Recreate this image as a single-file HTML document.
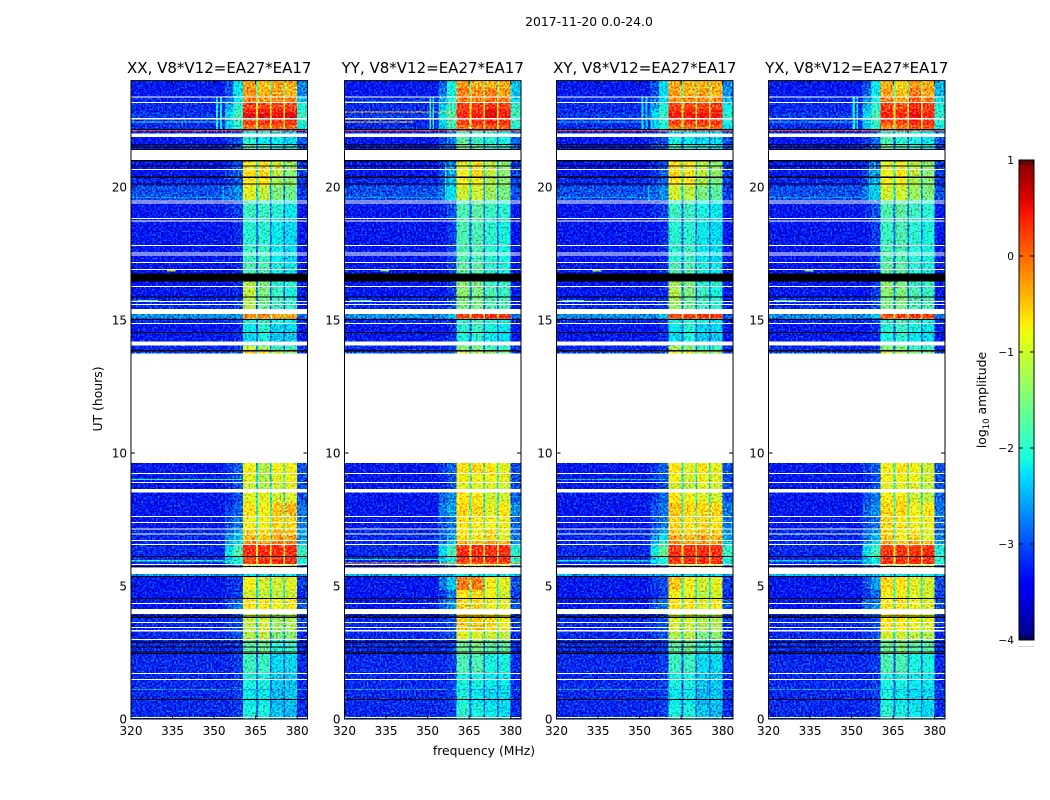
<!DOCTYPE html>
<html lang="en">
<head>
<meta charset="utf-8">
<title>2017-11-20 0.0-24.0</title>
<style>
html,body{margin:0;padding:0;background:#fff;width:1050px;height:800px;overflow:hidden}
svg{display:block}
text{font-family:"DejaVu Sans","Liberation Sans",sans-serif;fill:#000}
</style>
</head>
<body>
<svg id="chart" xmlns="http://www.w3.org/2000/svg" width="1050" height="800" viewBox="0 0 1050 800">
  <defs>
    <filter id="speckle" x="0" y="0" width="100%" height="100%" color-interpolation-filters="sRGB">
      <feTurbulence type="fractalNoise" baseFrequency="0.55" numOctaves="1" seed="4" result="grain"/>
      <feColorMatrix in="grain" type="matrix" values="0 0 0 0 .5  1 0 0 0 0  1 0 0 0 0  0 0 0 0 1" result="tint"/>
      <feComposite in="SourceGraphic" in2="tint" operator="arithmetic" k1="0" k2="1" k3="1.8" k4="-.9" result="mixed"/>
      <feComposite in="mixed" in2="SourceAlpha" operator="in"/>
    </filter>
    <linearGradient id="jet-gradient" x1="0" y1="1" x2="0" y2="0"></linearGradient>
  </defs>
  <rect width="1050" height="800" fill="#fff"/>
  <text x="589" y="26" font-size="12.4" text-anchor="middle">2017-11-20 0.0-24.0</text>
  <text x="484" y="755" font-size="12.4" text-anchor="middle">frequency (MHz)</text>
  <text transform="translate(102 399) rotate(-90)" font-size="12.4" text-anchor="middle">UT (hours)</text>
  <text transform="translate(986 400) rotate(-90)" font-size="12.4" text-anchor="middle">log<tspan font-size="8.5" dy="3">10</tspan><tspan dy="-3"> amplitude</tspan></text>
  <g id="panels"></g>
  <g id="colorbar"></g>
</svg>
<script>
// Time-band edges (UT hours, top to bottom)
const utEdges = [24,23.72,23.40,23.16,22.93,22.78,22.59,22.33,22.16,22.01,21.62,21.02,20.68,20.34,20.04,19.51,18.83,17.82,17.18,16.69,16.28,15.86,15.41,15.23,15.06,14.89,14.51,14.17,14.02,13.87,13.74,9.62,9.25,8.91,8.65,8.51,8.12,7.63,7.14,6.95,6.73,6.54,6.32,6.13,5.83,5.68,5.45,5.34,4.85,4.55,4.14,3.87,3.35,2.97,2.44,1.73,1.09,0.53,0];
// Frequency-channel edges (MHz)
const channelEdges = [320,354,357,360.4,365.1,365.8,370.2,370.8,375,375.6,380,384];
// Index into a value row for each channel; -1 marks a notch between sub-bands
const channelColumns = [0,1,2,3,-1,4,-1,5,-1,6,7];
const xTickLabels = [320,335,350,365,380];
const yTickLabels = [0,5,10,15,20];
const colorTickLabels = [1,0,-1,-2,-3,-4];
const panelTitles = ["XX, V8*V12=EA27*EA17","YY, V8*V12=EA27*EA17","XY, V8*V12=EA27*EA17","YX, V8*V12=EA27*EA17"];
const panelKeys = ["xx","yy","xy","yx"];

// log10 amplitude per time band: background, roll-off 1, roll-off 2, sub-band 1-4, upper edge
const xxValues = [
[-3.3,-3.0,-2.2,-.3,-.5,-.3,-.4,-2.7],[-3.3,-3.0,-2.2,-.2,-.4,-.3,-.4,-2.7],[-3.2,-2.8,-2.2,-.1,-.2,-.1,-.2,-2.4],[-3.2,-2.6,-2.0,.2,.2,.2,.2,-2.1],[-3.2,-2.4,-1.9,.4,.45,.4,.4,-2.0],[-3.1,-2.3,-1.8,.6,.6,.55,.6,-1.9],[-3.2,-2.3,-1.9,.2,.3,.3,.3,-2.0],[-3.2,-2.4,-2.0,-.1,0,0,0,-2.2],[-3.2,-3.1,-3.0,-2.2,-2.1,-2.2,-2.4,-3.0],[-3.3,-3.1,-3.0,-2.0,-2.2,-2.2,-2.3,-3.0],
[-3.3,-3.1,-3.0,-1.8,-1.9,-2.1,-2.1,-3.0],[-3.3,-3.2,-3.0,-.8,-.7,-1.0,-1.3,-3.1],[-3.3,-3.1,-2.9,-.7,-.6,-1.1,-1.4,-3.1],[-3.2,-3.1,-2.9,-.7,-.7,-1.2,-1.4,-3.1],[-3.0,-2.9,-2.7,-.9,-1.1,-1.5,-1.6,-3.1],[-3.3,-3.2,-3.1,-1.9,-1.9,-2.0,-2.2,-3.3],[-3.3,-3.3,-3.2,-2.0,-2.0,-2.2,-2.3,-3.3],[-3.3,-3.3,-3.2,-1.9,-1.9,-2.2,-2.3,-3.3],[-3.3,-3.3,-3.2,-1.8,-1.8,-2.1,-2.2,-3.3],[-3.3,-3.3,-3.2,-1.2,-1.5,-2.0,-2.0,-3.3],
[-3.3,-3.3,-3.2,-1.1,-1.5,-1.9,-2.1,-3.3],[-3.2,-3.2,-3.1,-1.2,-1.6,-1.9,-2.0,-3.3],[-3.2,-3.2,-3.1,-1.2,-1.6,-1.9,-2.0,-3.3],[-2.7,-2.7,-2.6,-.2,-.2,-.3,-.3,-2.9],[-3.2,-3.2,-3.1,-2.1,-2.0,-2.1,-2.2,-3.2],[-3.3,-3.3,-3.2,-2.2,-2.0,-2.3,-2.3,-3.3],[-3.3,-3.3,-3.2,-2.3,-2.1,-2.4,-2.4,-3.3],[-3.3,-3.3,-3.2,-2.3,-2.1,-2.4,-2.4,-3.3],[-3.2,-3.2,-3.1,-1.0,-1.3,-1.9,-1.9,-3.2],[-3.0,-3.0,-2.9,-.5,-.6,-1.1,-1.3,-3.1],
null,
[-3.3,-3.1,-2.9,-.8,-1.2,-.8,-.8,-3.0],[-3.3,-3.2,-3.0,-.9,-1.2,-.9,-.8,-3.0],[-3.3,-3.2,-3.0,-1.0,-1.2,-1.0,-.9,-3.0],[-3.3,-3.2,-3.0,-1.0,-1.2,-1.0,-.9,-3.0],[-3.3,-3.2,-3.0,-.9,-.9,-1.0,-.9,-3.0],[-3.3,-3.1,-2.9,-.7,-.8,-.5,-.4,-2.8],[-3.3,-3.0,-2.8,-.8,-.8,-.6,-.6,-2.8],[-3.2,-2.9,-2.6,-.6,-.6,-.4,-.5,-2.6],[-3.2,-2.7,-2.4,-.4,-.5,-.3,-.3,-2.6],[-3.2,-2.6,-2.3,-.2,-.3,-.1,-.1,-2.5],
[-3.2,-2.3,-1.8,.3,.3,.3,.3,-2.0],[-3.2,-2.2,-1.7,.35,.4,.4,.35,-1.9],[-3.2,-2.5,-2.1,.2,.3,.35,.3,-2.1],[-3.3,-3.0,-2.7,-.8,-.8,-.7,-.8,-2.8],[-3.3,-3.0,-2.7,-.8,-.8,-.7,-.8,-2.8],[-2.6,-2.6,-2.6,-2.3,-2.3,-2.3,-2.3,-2.6],[-3.3,-3.2,-3.1,-.8,-1.0,-1.0,-.9,-3.1],[-3.3,-3.2,-3.1,-1.0,-1.1,-1.1,-1.0,-3.2],[-3.3,-3.0,-2.8,-.7,-.7,-.8,-.7,-3.0],[-3.2,-3.1,-3.0,-1.0,-1.0,-1.2,-1.1,-3.1],
[-3.2,-3.1,-3.0,-1.1,-1.0,-1.3,-1.2,-3.1],[-3.2,-3.1,-3.0,-1.2,-1.1,-1.5,-1.4,-3.2],[-3.2,-3.2,-3.1,-1.7,-1.6,-2.0,-1.9,-3.2],[-3.2,-3.2,-3.1,-1.9,-1.9,-2.3,-2.3,-3.2],[-3.2,-3.2,-3.1,-2.1,-2.1,-2.4,-2.4,-3.2],[-3.2,-3.2,-3.1,-2.2,-2.2,-2.5,-2.4,-3.2],[-3.2,-3.2,-3.1,-2.1,-2.1,-2.4,-2.5,-3.2]
];
const yyValues = [
[-3.3,-2.9,-2.1,-.3,-.4,-.4,-.4,-2.4],[-3.3,-2.8,-2.1,-.1,-.2,-.1,-.3,-2.4],[-3.2,-2.6,-2.0,-.1,-.1,0,-.1,-2.3],[-3.2,-2.4,-1.9,.2,.2,.3,.2,-2.0],[-3.2,-2.3,-1.8,.3,.4,.55,.4,-1.9],[-3.1,-2.2,-1.7,.4,.45,.6,.45,-1.9],[-3.2,-2.3,-1.8,.2,.3,.4,.3,-1.9],[-3.2,-2.4,-1.9,-.1,.05,.1,.05,-2.1],[-3.2,-3.0,-2.8,-1.9,-1.9,-2.0,-2.2,-2.8],[-3.3,-3.0,-2.8,-1.7,-1.9,-2.0,-2.1,-2.9],
[-3.3,-3.0,-2.9,-1.5,-1.7,-1.9,-2.0,-2.9],[-3.3,-3.1,-2.8,-.9,-.7,-1.1,-1.4,-3.1],[-3.3,-3.0,-2.6,-.8,-.6,-1.1,-1.4,-3.1],[-3.2,-3.0,-2.5,-.8,-.8,-1.2,-1.4,-3.1],[-3.0,-2.8,-2.3,-1.0,-1.0,-1.3,-1.5,-3.0],[-3.3,-3.2,-3.0,-1.8,-1.7,-1.9,-2.0,-3.3],[-3.3,-3.3,-3.1,-1.8,-1.8,-2.0,-2.1,-3.3],[-3.3,-3.3,-3.1,-1.8,-1.8,-2.0,-2.1,-3.3],[-3.3,-3.3,-3.1,-1.7,-1.7,-2.0,-2.1,-3.3],[-3.3,-3.3,-3.1,-1.4,-1.5,-1.9,-1.9,-3.3],
[-3.3,-3.3,-3.1,-1.4,-1.5,-1.8,-1.9,-3.3],[-3.2,-3.2,-3.0,-1.5,-1.5,-1.8,-1.8,-3.3],[-3.2,-3.2,-3.0,-1.5,-1.5,-1.8,-1.8,-3.3],[-2.7,-2.7,-2.4,.2,.3,.4,.3,-2.8],[-3.2,-3.2,-3.1,-2.0,-1.8,-2.0,-2.1,-3.2],[-3.3,-3.3,-3.2,-2.0,-1.9,-2.1,-2.2,-3.3],[-3.3,-3.3,-3.2,-2.1,-2.0,-2.2,-2.3,-3.3],[-3.3,-3.3,-3.2,-2.1,-2.0,-2.2,-2.3,-3.3],[-3.2,-3.2,-3.1,-1.4,-1.5,-1.9,-1.9,-3.2],[-3.0,-3.0,-2.9,-1.0,-1.1,-1.4,-1.5,-3.1],
null,
[-3.3,-3.1,-2.9,-.7,-.6,-.7,-.9,-3.0],[-3.3,-3.2,-3.0,-.8,-.8,-.8,-.9,-3.0],[-3.3,-3.2,-3.0,-.9,-.9,-.9,-1.0,-3.0],[-3.3,-3.2,-3.0,-.9,-.9,-.9,-1.0,-3.0],[-3.3,-2.9,-2.7,-.7,-.7,-1.0,-1.0,-2.9],[-3.3,-2.8,-2.6,-.6,-.6,-.9,-.7,-2.7],[-3.3,-3.0,-2.8,-.7,-.7,-.8,-.8,-2.9],[-3.2,-2.9,-2.7,-.7,-.8,-.6,-.9,-2.9],[-3.2,-2.9,-2.6,-.6,-.7,-.6,-.9,-2.8],[-3.2,-2.8,-2.5,-.4,-.5,-.3,-.4,-2.7],
[-3.2,-2.3,-1.9,.25,.3,.3,.3,-2.1],[-3.2,-2.3,-1.8,.3,.35,.35,.3,-2.0],[-3.2,-2.5,-2.1,.35,.35,.4,.35,-2.0],[-3.3,-3.0,-2.7,-.5,-.6,-.4,-.8,-2.8],[-3.3,-3.0,-2.7,-.5,-.6,-.4,-.8,-2.8],[-2.5,-2.5,-2.5,-2.2,-2.2,-2.2,-2.2,-2.5],[-3.3,-2.8,-2.4,-.1,-.1,-.8,-.9,-3.0],[-3.3,-3.1,-2.8,-.7,-.6,-.8,-1.0,-3.1],[-3.3,-2.9,-2.7,-.6,-.6,-.8,-.9,-3.0],[-3.2,-3.1,-3.0,-.5,-.5,-.6,-.8,-3.1],
[-3.2,-3.1,-3.0,-.5,-.5,-.6,-.8,-3.1],[-3.2,-3.1,-3.0,-.9,-.9,-1.0,-1.1,-3.2],[-3.2,-3.2,-3.1,-1.6,-1.5,-1.7,-1.7,-3.2],[-3.2,-3.2,-3.1,-1.8,-1.8,-2.1,-2.1,-3.2],[-3.2,-3.2,-3.1,-2.1,-2.1,-2.2,-2.2,-3.2],[-3.2,-3.2,-3.1,-2.1,-2.2,-2.3,-2.3,-3.2],[-3.2,-3.2,-3.1,-2.0,-2.1,-2.2,-2.3,-3.2]
];
const xyValues = [
[-3.3,-3.0,-2.3,-.3,-.4,-.4,-.4,-2.7],[-3.3,-3.0,-2.3,-.3,-.4,-.3,-.4,-2.7],[-3.2,-2.8,-2.3,-.2,-.2,-.2,-.2,-2.5],[-3.2,-2.6,-2.1,.15,.2,.2,.2,-2.2],[-3.2,-2.4,-2.0,.3,.35,.35,.35,-2.1],[-3.1,-2.3,-1.9,.5,.5,.5,.5,-2.0],[-3.2,-2.3,-2.0,.2,.25,.25,.25,-2.1],[-3.2,-2.4,-2.1,-.1,0,0,0,-2.3],[-3.2,-3.1,-3.0,-2.3,-2.2,-2.3,-2.4,-3.0],[-3.3,-3.1,-3.0,-2.1,-2.2,-2.3,-2.3,-3.0],
[-3.3,-3.1,-3.0,-1.9,-2.0,-2.1,-2.2,-3.0],[-3.3,-3.2,-3.0,-.7,-.7,-1.1,-1.4,-3.1],[-3.3,-3.1,-2.9,-.6,-.7,-1.1,-1.4,-3.1],[-3.2,-3.1,-2.9,-.7,-.7,-1.2,-1.5,-3.1],[-3.0,-2.9,-2.7,-1.0,-1.1,-1.5,-1.7,-3.1],[-3.3,-3.2,-3.1,-1.9,-1.9,-2.1,-2.2,-3.3],[-3.3,-3.3,-3.2,-2.0,-2.0,-2.2,-2.3,-3.3],[-3.3,-3.3,-3.2,-2.0,-1.9,-2.2,-2.3,-3.3],[-3.3,-3.3,-3.2,-1.8,-1.8,-2.1,-2.2,-3.3],[-3.3,-3.3,-3.2,-1.3,-1.5,-2.0,-2.0,-3.3],
[-3.3,-3.3,-3.2,-1.2,-1.5,-1.9,-2.1,-3.3],[-3.2,-3.2,-3.1,-1.3,-1.6,-1.9,-2.0,-3.3],[-3.2,-3.2,-3.1,-1.3,-1.6,-1.9,-2.0,-3.3],[-2.7,-2.7,-2.4,.2,.3,.3,.3,-2.9],[-3.2,-3.2,-3.1,-2.1,-2.0,-2.1,-2.2,-3.2],[-3.3,-3.3,-3.2,-2.2,-2.0,-2.3,-2.3,-3.3],[-3.3,-3.3,-3.2,-2.3,-2.1,-2.4,-2.4,-3.3],[-3.3,-3.3,-3.2,-2.3,-2.1,-2.4,-2.4,-3.3],[-3.2,-3.2,-3.1,-1.2,-1.4,-1.9,-1.9,-3.2],[-3.0,-3.0,-2.9,-.8,-.9,-1.2,-1.4,-3.1],
null,
[-3.3,-3.1,-2.9,-.7,-.9,-.7,-.9,-3.0],[-3.3,-3.2,-3.0,-.8,-1.0,-.8,-.9,-3.0],[-3.3,-3.2,-3.0,-1.0,-1.1,-.9,-1.0,-3.0],[-3.3,-3.2,-3.0,-1.0,-1.1,-.9,-1.0,-3.0],[-3.3,-3.1,-2.9,-.7,-.8,-.9,-1.0,-3.0],[-3.3,-3.0,-2.8,-.5,-.6,-.6,-.6,-2.8],[-3.3,-3.0,-2.8,-.6,-.7,-.6,-.7,-2.8],[-3.2,-2.9,-2.6,-.5,-.6,-.5,-.6,-2.7],[-3.2,-2.7,-2.3,-.3,-.4,-.3,-.4,-2.6],[-3.2,-2.5,-2.0,-.2,-.3,-.2,-.3,-2.4],
[-3.2,-2.2,-1.7,.25,.3,.3,.3,-2.0],[-3.2,-2.1,-1.6,.35,.35,.4,.35,-1.9],[-3.2,-2.4,-2.0,.25,.35,.35,.3,-2.1],[-3.3,-3.0,-2.7,-.7,-.7,-.7,-.8,-2.8],[-3.3,-3.0,-2.7,-.7,-.7,-.7,-.8,-2.8],[-2.6,-2.6,-2.6,-2.3,-2.3,-2.3,-2.3,-2.6],[-3.3,-3.1,-3.0,-.5,-.8,-1.0,-.9,-3.1],[-3.3,-3.2,-3.1,-.8,-.9,-1.1,-1.0,-3.2],[-3.3,-3.0,-2.8,-.7,-.7,-.9,-.8,-3.0],[-3.2,-3.1,-3.0,-1.0,-1.0,-1.1,-1.1,-3.1],
[-3.2,-3.1,-3.0,-1.0,-1.0,-1.2,-1.2,-3.1],[-3.2,-3.1,-3.0,-1.2,-1.1,-1.5,-1.4,-3.2],[-3.2,-3.2,-3.1,-1.7,-1.6,-2.0,-1.9,-3.2],[-3.2,-3.2,-3.1,-1.9,-1.9,-2.3,-2.3,-3.2],[-3.2,-3.2,-3.1,-2.1,-2.1,-2.4,-2.4,-3.2],[-3.2,-3.2,-3.1,-2.2,-2.2,-2.5,-2.4,-3.2],[-3.2,-3.2,-3.1,-2.1,-2.1,-2.4,-2.5,-3.2]
];
const yxValues = [
[-3.3,-3.0,-2.2,-.4,-.6,-.3,-.4,-2.5],[-3.3,-2.9,-2.2,-.3,-.5,-.1,-.3,-2.5],[-3.2,-2.7,-2.1,-.1,-.3,.1,-.1,-2.3],[-3.2,-2.5,-2.0,.2,.1,.35,.2,-2.1],[-3.2,-2.4,-1.9,.3,.25,.5,.3,-2.0],[-3.1,-2.3,-1.8,.4,.35,.55,.4,-2.0],[-3.2,-2.3,-1.9,.15,.2,.4,.3,-2.0],[-3.2,-2.4,-2.0,-.2,-.1,.1,.05,-2.2],[-3.2,-3.1,-2.9,-2.1,-2.0,-2.1,-2.3,-2.9],[-3.3,-3.1,-2.9,-1.8,-2.0,-2.1,-2.2,-3.0],
[-3.3,-3.1,-2.9,-1.6,-1.8,-2.0,-2.1,-3.0],[-3.3,-3.2,-2.9,-.9,-.8,-1.1,-1.4,-3.1],[-3.3,-3.1,-2.7,-.8,-.7,-1.1,-1.4,-3.1],[-3.2,-3.0,-2.6,-.8,-.8,-1.2,-1.4,-3.1],[-3.0,-2.8,-2.4,-1.0,-1.0,-1.3,-1.5,-3.0],[-3.3,-3.2,-3.0,-1.8,-1.7,-1.9,-2.0,-3.3],[-3.3,-3.3,-3.1,-1.9,-1.8,-2.0,-2.1,-3.3],[-3.3,-3.3,-3.1,-1.8,-1.8,-2.0,-2.1,-3.3],[-3.3,-3.3,-3.1,-1.7,-1.7,-2.0,-2.1,-3.3],[-3.3,-3.3,-3.1,-1.4,-1.5,-1.9,-1.9,-3.3],
[-3.3,-3.3,-3.1,-1.4,-1.5,-1.8,-1.9,-3.3],[-3.2,-3.2,-3.0,-1.5,-1.5,-1.8,-1.8,-3.3],[-3.2,-3.2,-3.0,-1.5,-1.5,-1.8,-1.8,-3.3],[-2.7,-2.7,-2.4,.1,.2,.3,.2,-2.8],[-3.2,-3.2,-3.1,-2.0,-1.8,-2.0,-2.1,-3.2],[-3.3,-3.3,-3.2,-2.0,-1.9,-2.1,-2.2,-3.3],[-3.3,-3.3,-3.2,-2.1,-2.0,-2.2,-2.3,-3.3],[-3.3,-3.3,-3.2,-2.1,-2.0,-2.2,-2.3,-3.3],[-3.2,-3.2,-3.1,-1.4,-1.5,-1.9,-1.9,-3.2],[-3.0,-3.0,-2.9,-1.0,-1.1,-1.4,-1.5,-3.1],
null,
[-3.3,-3.1,-2.9,-.8,-.7,-.8,-1.0,-3.0],[-3.3,-3.2,-3.0,-.8,-.8,-.8,-1.0,-3.0],[-3.3,-3.2,-3.0,-.9,-.9,-.9,-1.1,-3.0],[-3.3,-3.2,-3.0,-.9,-.9,-.9,-1.1,-3.0],[-3.3,-3.0,-2.8,-.8,-.7,-1.0,-1.1,-2.9],[-3.3,-2.9,-2.7,-.6,-.6,-.8,-.7,-2.8],[-3.3,-3.0,-2.8,-.6,-.7,-.8,-.8,-2.9],[-3.2,-2.9,-2.7,-.6,-.8,-.7,-.9,-2.9],[-3.2,-2.8,-2.5,-.5,-.7,-.6,-.9,-2.8],[-3.2,-2.7,-2.3,-.3,-.5,-.3,-.5,-2.6],
[-3.2,-2.3,-1.9,.2,.25,.25,.3,-2.1],[-3.2,-2.2,-1.8,.3,.3,.3,.3,-2.0],[-3.2,-2.5,-2.1,.3,.3,.35,.35,-2.0],[-3.3,-3.0,-2.7,-.6,-.7,-.5,-.8,-2.8],[-3.3,-3.0,-2.7,-.6,-.7,-.5,-.8,-2.8],[-2.5,-2.5,-2.5,-2.2,-2.2,-2.2,-2.2,-2.5],[-3.3,-3.0,-2.6,-.6,-.7,-.9,-1.0,-3.0],[-3.3,-3.1,-2.9,-.8,-.8,-.9,-1.0,-3.1],[-3.3,-2.9,-2.7,-.7,-.7,-.8,-.9,-3.0],[-3.2,-3.1,-3.0,-.7,-.7,-.8,-.9,-3.1],
[-3.2,-3.1,-3.0,-.7,-.7,-.8,-.9,-3.1],[-3.2,-3.1,-3.0,-1.0,-1.0,-1.1,-1.2,-3.2],[-3.2,-3.2,-3.1,-1.6,-1.5,-1.7,-1.7,-3.2],[-3.2,-3.2,-3.1,-1.8,-1.8,-2.1,-2.1,-3.2],[-3.2,-3.2,-3.1,-2.1,-2.1,-2.2,-2.2,-3.2],[-3.2,-3.2,-3.1,-2.1,-2.2,-2.3,-2.3,-3.2],[-3.2,-3.2,-3.1,-2.0,-2.1,-2.2,-2.3,-3.2]
];
// Narrow interference features: MHz start, MHz end, UT top, UT bottom, log10 amplitude
const xxFeatures = [[320,384,22.14,22.10,.3],[320,352,22.46,22.42,-2.0],[350.6,351.4,23.4,22.16,-2.1],[352.2,352.9,23.4,22.16,-2.2],[353,353.5,20.04,19.5,-2.5],[355.5,356,20.04,19.5,-2.5],[320,356,19.62,19.58,-2.6],[320,360,9.03,8.99,-2.0],[320,360,5.97,5.93,-2.0],[320,384,1.13,1.09,-2.6],[322,330,15.76,15.72,-1.9],[333,336,16.88,16.82,-1.0]];
const yyFeatures = [[320,384,22.14,22.10,.3],[320,358,22.84,22.80,-.4],[320,345,22.47,22.43,-.4],[320,352,23.22,23.18,-1.7],[350.6,351.3,23.4,22.16,-2.0],[351.8,352.4,23.4,22.16,-2.1],[356.2,356.9,20.9,19.5,-2.1],[358,358.6,20.9,19.5,-2.2],[320,357,19.62,19.58,-2.6],[320,384,5.89,5.85,-.2],[320,384,1.13,1.09,-2.6],[322,330,15.76,15.72,-1.9],[333,336,16.88,16.82,-1.4],[320,360,6.02,5.98,-2.2]];
const xyFeatures = [[320,384,22.14,22.10,.2],[320,352,22.46,22.42,-2.3],[350.6,351.4,23.4,22.16,-2.2],[352.2,352.9,23.4,22.16,-2.3],[353,353.5,20.04,19.5,-2.4],[320,356,19.62,19.58,-2.6],[320,360,9.03,8.99,-2.4],[320,360,5.97,5.93,-2.2],[320,384,1.13,1.09,-2.6],[322,330,15.76,15.72,-1.9],[333,336,16.88,16.82,-1.3]];
const yxFeatures = [[320,384,22.14,22.10,.2],[320,352,22.46,22.42,-2.3],[350.4,351.2,23.4,22.16,-2.1],[351.8,352.4,23.4,22.16,-2.2],[356.2,356.9,20.9,19.5,-2.2],[358,358.6,20.9,19.5,-2.2],[320,357,19.62,19.58,-2.6],[320,360,5.97,5.93,-2.3],[320,384,1.13,1.09,-2.6],[322,330,15.76,15.72,-1.9],[333,336,16.88,16.82,-1.5]];
// Flagged (blank) time spans in UT hours
const gapSpans = [[23.402,23.365],[23.195,23.158],[22.594,22.538],[22.011,21.880],[21.391,21.015],[20.677,20.639],[19.492,19.455],[19.417,19.380],[18.835,18.797],[18.741,18.703],[17.820,17.782],[17.538,17.500],[17.462,17.425],[17.180,17.143],[16.917,16.880],[16.278,16.241],[15.714,15.677],[15.602,15.564],[15.414,15.226],[14.887,14.850],[14.184,14.034],[9.248,9.211],[8.910,8.872],[8.647,8.508],[7.632,7.586],[7.398,7.361],[7.162,7.124],[6.974,6.936],[6.729,6.684],[6.579,6.541],[5.827,5.789],[5.703,5.451],[4.361,4.323],[4.135,3.947],[3.647,3.609],[3.451,3.414],[3.346,3.289],[3.008,2.970],[1.729,1.692],[1.504,1.466],[0.075,0.038]];
// Zero-amplitude (black) time spans in UT hours
const blackSpans = [[22.180,22.143],[21.617,21.579],[21.523,21.485],[21.429,21.391],[21.015,20.959],[20.808,20.771],[20.395,20.338],[20.132,20.094],[16.748,16.447],[15.883,15.846],[15.038,15.000],[14.549,14.511],[13.880,13.816],[6.128,6.090],[5.752,5.714],[5.376,5.338],[4.549,4.511],[3.898,3.861],[3.835,3.797],[2.914,2.857],[2.733,2.695],[2.545,2.508],[2.481,2.444],[0.752,0.714]];

const panelValues = [xxValues,yyValues,xyValues,yxValues];
const panelFeatures = [xxFeatures,yyFeatures,xyFeatures,yxFeatures];

const SVG_NS = "http://www.w3.org/2000/svg";
const PANEL_LEFTS = [131,344.5,556.5,768.5];
const PANEL_WIDTH = 176.5;
const PX_PER_MHZ = 2.77;
const PX_PER_HOUR = 26.6;
const PLOT_BOTTOM = 719;
const NOTCH_DROP = 1.2;
const NOTCH_FLOOR = -2.9;
const COLOR_MIN = -4;
const COLOR_MAX = 1;

function xAxis(left, mhz) { return left + (mhz - 320) * PX_PER_MHZ; }
function yAxis(hours) { return PLOT_BOTTOM - hours * PX_PER_HOUR; }

function ramp(t, points) {
  for (let i = 1; i < points.length; i++) {
    if (t <= points[i][0]) {
      const a = points[i - 1], b = points[i];
      return a[1] + (b[1] - a[1]) * (t - a[0]) / (b[0] - a[0]);
    }
  }
  return points[points.length - 1][1];
}
function jet(t) {
  const r = ramp(t, [[0,0],[.35,0],[.66,1],[.89,1],[1,.5]]);
  const g = ramp(t, [[0,0],[.125,0],[.375,1],[.64,1],[.91,0],[1,0]]);
  const b = ramp(t, [[0,.5],[.11,1],[.34,1],[.65,0],[1,0]]);
  return "rgb(" + Math.round(r * 255) + "," + Math.round(g * 255) + "," + Math.round(b * 255) + ")";
}
function colorOf(v) {
  const t = Math.max(0, Math.min(1, (v - COLOR_MIN) / (COLOR_MAX - COLOR_MIN)));
  return jet(t);
}
function make(tag, attrs, parent) {
  const el = document.createElementNS(SVG_NS, tag);
  for (const k in attrs) el.setAttribute(k, attrs[k]);
  parent.appendChild(el);
  return el;
}
function cellValue(row, col) {
  const source = channelColumns[col];
  if (source >= 0) return row[source];
  const lower = Math.min(row[channelColumns[col - 1]], row[channelColumns[col + 1]]);
  return Math.max(lower - NOTCH_DROP, Math.min(NOTCH_FLOOR, lower));
}

const panelsRoot = document.getElementById("panels");
panelValues.forEach(function (rows, p) {
  const left = PANEL_LEFTS[p];
  const right = left + PANEL_WIDTH;
  const top = yAxis(24);
  const bottom = yAxis(0);
  const key = panelKeys[p];

  const panel = make("g", {}, panelsRoot);
  
  

  const heat = make("g", { filter: "url(#speckle)", "shape-rendering": "crispEdges" }, panel);
  
  

  rows.forEach(function (row, r) {
    if (!row) return;
    for (let c = 0; c < channelColumns.length; c++) {
      const x0 = xAxis(left, channelEdges[c]);
      const x1 = Math.min(xAxis(left, channelEdges[c + 1]), right);
      const y0 = yAxis(utEdges[r]);
      const y1 = yAxis(utEdges[r + 1]);
      const cell = make("rect", { x: x0, y: y0, width: x1 - x0, height: y1 - y0, fill: colorOf(cellValue(row, c)) }, heat);
      
      
    }
  });

  panelFeatures[p].forEach(function (f) {
    const x0 = xAxis(left, f[0]);
    const x1 = Math.min(xAxis(left, f[1]), right);
    const feature = make("rect", { x: x0, y: yAxis(f[2]), width: x1 - x0, height: Math.max(1, yAxis(f[3]) - yAxis(f[2])), fill: colorOf(f[4]) }, heat);
    
    
  });

  gapSpans.forEach(function (s) {
    const gap = make("rect", { x: left, y: yAxis(s[0]), width: PANEL_WIDTH, height: yAxis(s[1]) - yAxis(s[0]), fill: "#fff", "shape-rendering": "crispEdges" }, panel);
    
    
  });
  blackSpans.forEach(function (s) {
    const band = make("rect", { x: left, y: yAxis(s[0]), width: PANEL_WIDTH, height: yAxis(s[1]) - yAxis(s[0]), fill: "#000", "shape-rendering": "crispEdges" }, panel);
    
    
  });

  const frame = make("rect", { x: left, y: top, width: PANEL_WIDTH, height: bottom - top, fill: "none", stroke: "#000", "stroke-width": 1 }, panel);
  
  

  xTickLabels.forEach(function (mhz) {
    const x = xAxis(left, mhz);
    const tickLow = make("line", { x1: x, x2: x, y1: bottom, y2: bottom - 4, stroke: "#000", "stroke-width": 1 }, panel);
    
    
    const tickHigh = make("line", { x1: x, x2: x, y1: top, y2: top + 4, stroke: "#000", "stroke-width": 1 }, panel);
    
    
    const label = make("text", { x: x, y: bottom + 16, "font-size": 12, "text-anchor": "middle" }, panel);
    
    
    label.textContent = mhz;
  });
  yTickLabels.forEach(function (hour) {
    const y = yAxis(hour);
    const tickLeft = make("line", { x1: left, x2: left + 4, y1: y, y2: y, stroke: "#000", "stroke-width": 1 }, panel);
    
    
    const tickRight = make("line", { x1: right, x2: right - 4, y1: y, y2: y, stroke: "#000", "stroke-width": 1 }, panel);
    
    
    const label = make("text", { x: left - 4, y: y + 4.5, "font-size": 12, "text-anchor": "end" }, panel);
    
    
    label.textContent = hour;
  });
  const title = make("text", { x: left + PANEL_WIDTH / 2, y: 73, "font-size": 15, "text-anchor": "middle" }, panel);
  
  
  title.textContent = panelTitles[p];
});

// Colour bar
const CB_LEFT = 1019, CB_RIGHT = 1034, CB_TOP = 160, CB_BOTTOM = 640;
function cbAxis(v) { return CB_BOTTOM - (v - COLOR_MIN) / (COLOR_MAX - COLOR_MIN) * (CB_BOTTOM - CB_TOP); }
const gradient = document.getElementById("jet-gradient");
for (let k = 0; k <= 50; k++) {
  make("stop", { offset: (k * 2) + "%", "stop-color": jet(k / 50) }, gradient);
}
const cbRoot = document.getElementById("colorbar");
const cbFill = make("rect", { x: CB_LEFT, y: CB_TOP, width: CB_RIGHT - CB_LEFT, height: CB_BOTTOM - CB_TOP, fill: "url(#jet-gradient)", stroke: "#000", "stroke-width": 1 }, cbRoot);


colorTickLabels.forEach(function (v) {
  const y = cbAxis(v);
  const tickLeft = make("line", { x1: CB_LEFT, x2: CB_LEFT + 4, y1: y, y2: y, stroke: "#000", "stroke-width": 1 }, cbRoot);
  
  
  const tickRight = make("line", { x1: CB_RIGHT, x2: CB_RIGHT - 4, y1: y, y2: y, stroke: "#000", "stroke-width": 1 }, cbRoot);
  
  
  const label = make("text", { x: CB_LEFT - 5, y: y + 4, "font-size": 10.6, "text-anchor": "end" }, cbRoot);
  
  
  label.textContent = String(v).replace("-", "\u2212");
});
for (let i = 0; i < 6; i++) {
  const x = CB_LEFT + 1 + i * 2.6;
  const upper = make("line", { x1: x, x2: x, y1: CB_TOP, y2: CB_TOP + 5, stroke: "#000", "stroke-width": .7 }, cbRoot);
  
  
  const lower = make("line", { x1: x, x2: x, y1: CB_BOTTOM, y2: CB_BOTTOM - 5, stroke: "#000", "stroke-width": .7 }, cbRoot);
  
  
  const dot = make("rect", { x: x - .5, y: 646, width: 1, height: 1, fill: "#999" }, cbRoot);
  
  
}
</script>
</body>
</html>
